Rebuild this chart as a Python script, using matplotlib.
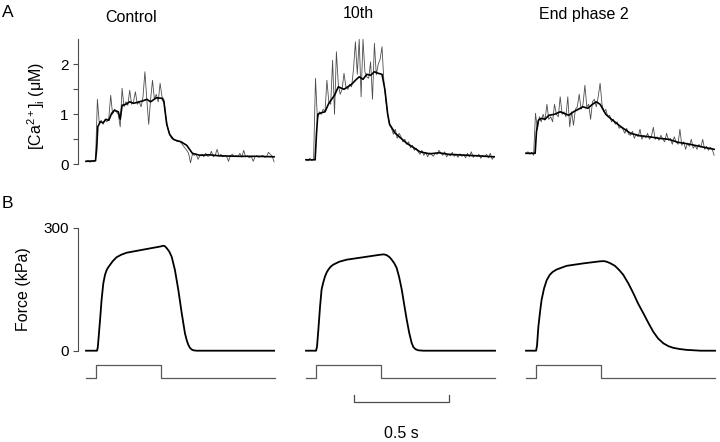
import numpy as np
import matplotlib
matplotlib.use("Agg")
import matplotlib.pyplot as plt
import matplotlib as mpl

#### plotting parameters ###
mpl.rcParams['font.family'] = ['Liberation Sans', 'DejaVu Sans']
mpl.rcParams['mathtext.fontset'] = 'custom'
mpl.rcParams['mathtext.rm'] = 'Liberation Sans'
mpl.rcParams['mathtext.it'] = 'Liberation Sans:italic'
mpl.rcParams['axes.linewidth'] = 0.8
mpl.rcParams['axes.edgecolor'] = '0.3'
mpl.rcParams['ytick.color'] = '0.3'
mpl.rcParams['ytick.labelcolor'] = 'black'
mpl.rcParams['ytick.labelsize'] = 11
mpl.rcParams['ytick.major.size'] = 3.5
mpl.rcParams['ytick.minor.size'] = 3.5
mpl.rcParams['ytick.major.width'] = 0.8
mpl.rcParams['ytick.minor.width'] = 0.8

conditions = ["Control", "10th", "End phase 2"]

# [Ca2+]i raw traces (uM), one sample every 10 ms
dt = 0.01
ca_control = [0.05, 0.08, 0.04, 0.06, 0.05, 0.08, 1.3, 0.82, 0.88, 0.8,
              0.9, 0.85, 0.92, 1.38, 1.0, 1.1, 1.05, 1.0, 0.75, 1.52,
              1.15, 1.25, 1.18, 1.48, 1.2, 1.25, 1.45, 1.2, 1.25, 1.15,
              1.35, 1.85, 1.3, 0.8, 1.3, 1.68, 1.3, 1.4, 1.25, 1.62,
              1.35, 1.3, 0.95, 0.72, 0.6, 0.52, 0.5, 0.48, 0.46, 0.47,
              0.43, 0.38, 0.33, 0.28, 0.22, 0.03, 0.2, 0.18, 0.2, 0.1,
              0.18, 0.2, 0.15, 0.22, 0.16, 0.17, 0.26, 0.15, 0.18, 0.3,
              0.16, 0.2, 0.15, 0.18, 0.16, 0.06, 0.17, 0.2, 0.15, 0.17,
              0.16, 0.22, 0.14, 0.28, 0.15, 0.17, 0.13, 0.16, 0.06, 0.15,
              0.17, 0.14, 0.16, 0.18, 0.14, 0.15, 0.24, 0.2, 0.16, 0.05]
ca_10th = [0.1, 0.07, 0.12, 0.08, 0.1, 1.72, 0.9, 1.05, 1.0, 1.1,
           1.05, 1.68, 1.25, 1.2, 2.08, 1.0, 2.25, 1.6, 1.4, 1.5,
           1.82, 1.55, 1.5, 1.6, 1.55, 1.9, 2.45, 1.8, 2.5, 1.35,
           2.5, 1.85, 1.75, 1.72, 2.05, 1.3, 2.42, 1.79, 2.0, 2.1,
           2.35, 1.65, 1.3, 1.0, 0.78, 0.72, 0.6, 0.7, 0.52, 0.62,
           0.55, 0.45, 0.5, 0.4, 0.45, 0.33, 0.38, 0.28, 0.32, 0.25,
           0.2, 0.28, 0.18, 0.24, 0.15, 0.23, 0.2, 0.16, 0.22, 0.2,
           0.28, 0.22, 0.18, 0.25, 0.15, 0.2, 0.17, 0.24, 0.16, 0.2,
           0.14, 0.21, 0.16, 0.19, 0.13, 0.22, 0.15, 0.25, 0.14, 0.18,
           0.16, 0.2, 0.12, 0.18, 0.15, 0.2, 0.13, 0.22, 0.1, 0.16]
ca_end = [0.22, 0.25, 0.2, 0.24, 0.18, 1.02, 0.7, 0.95, 0.85, 1.0,
          0.88, 1.2, 0.9, 0.95, 0.85, 1.2, 1.0, 0.95, 1.35, 1.0,
          1.05, 0.95, 1.35, 0.75, 1.05, 0.78, 1.1, 1.15, 1.4, 1.1,
          1.2, 1.58, 1.15, 1.2, 0.9, 1.25, 1.3, 1.15, 1.35, 1.62,
          1.2, 1.05, 1.1, 0.95, 0.98, 0.85, 0.9, 0.8, 0.85, 0.72,
          0.75, 0.7, 0.62, 0.72, 0.6, 0.58, 0.66, 0.52, 0.6, 0.55,
          0.7, 0.5, 0.58, 0.53, 0.62, 0.5, 0.56, 0.74, 0.5, 0.55,
          0.48, 0.58, 0.5, 0.45, 0.62, 0.48, 0.52, 0.4, 0.55, 0.45,
          0.4, 0.7, 0.38, 0.45, 0.3, 0.42, 0.36, 0.5, 0.32, 0.38,
          0.3, 0.4, 0.34, 0.5, 0.3, 0.36, 0.28, 0.34, 0.3, 0.18]
ca_raw = [ca_control, ca_10th, ca_end]

# filtered [Ca2+]i (black line), (time s, uM)
ca_smooth_t = [
    [0, 0.05, 0.056, 0.062, 0.075, 0.09, 0.105, 0.12, 0.135, 0.15, 0.17, 0.18,
     0.19, 0.21, 0.23, 0.25, 0.27, 0.3, 0.32, 0.34, 0.37, 0.4, 0.41, 0.425,
     0.44, 0.46, 0.48, 0.5, 0.53, 0.56, 0.6, 0.65, 0.7, 0.8, 0.9, 0.99],
    [0, 0.048, 0.055, 0.062, 0.08, 0.1, 0.12, 0.135, 0.15, 0.17, 0.2, 0.22,
     0.24, 0.26, 0.28, 0.3, 0.32, 0.34, 0.36, 0.38, 0.4, 0.415, 0.43, 0.44,
     0.47, 0.5, 0.53, 0.56, 0.6, 0.65, 0.7, 0.75, 0.8, 0.9, 0.99],
    [0, 0.048, 0.055, 0.065, 0.08, 0.1, 0.12, 0.15, 0.18, 0.2, 0.225, 0.25,
     0.275, 0.3, 0.325, 0.35, 0.37, 0.39, 0.42, 0.45, 0.5, 0.55, 0.6, 0.65,
     0.7, 0.75, 0.8, 0.85, 0.9, 0.95, 0.99],
]
ca_smooth = [
    [0.06, 0.07, 0.3, 0.75, 0.85, 0.83, 0.9, 0.88, 1.02, 1.08, 1.05, 0.9,
     1.18, 1.2, 1.25, 1.22, 1.24, 1.27, 1.3, 1.25, 1.33, 1.32, 1.25, 0.8,
     0.6, 0.5, 0.47, 0.45, 0.38, 0.22, 0.18, 0.19, 0.17, 0.16, 0.16, 0.15],
    [0.09, 0.09, 0.6, 1.0, 1.03, 1.05, 1.22, 1.3, 1.38, 1.55, 1.5, 1.55,
     1.6, 1.68, 1.75, 1.7, 1.8, 1.78, 1.85, 1.82, 1.8, 1.5, 1.0, 0.8,
     0.62, 0.52, 0.42, 0.35, 0.25, 0.21, 0.23, 0.2, 0.19, 0.17, 0.15],
    [0.22, 0.22, 0.65, 0.88, 0.92, 0.9, 0.98, 1.0, 1.05, 1.02, 0.98, 1.05,
     1.1, 1.15, 1.12, 1.2, 1.25, 1.2, 1.0, 0.9, 0.75, 0.62, 0.57, 0.55,
     0.52, 0.5, 0.44, 0.41, 0.37, 0.33, 0.3],
]

# force (time s, kPa)
force_t = [
    [0, 0.058, 0.062, 0.066, 0.074, 0.082, 0.091, 0.1, 0.109, 0.118, 0.126,
     0.14, 0.161, 0.185, 0.214, 0.284, 0.354, 0.39, 0.407, 0.415, 0.425,
     0.438, 0.451, 0.468, 0.486, 0.504, 0.521, 0.531, 0.539, 0.547, 0.556,
     0.565, 0.582, 0.99],
    [0, 0.053, 0.058, 0.065, 0.074, 0.082, 0.09, 0.1, 0.109, 0.118, 0.13,
     0.144, 0.175, 0.214, 0.302, 0.389, 0.41, 0.425, 0.44, 0.451, 0.465,
     0.477, 0.49, 0.504, 0.517, 0.53, 0.543, 0.556, 0.565, 0.575, 0.59,
     0.618, 0.995],
    [0, 0.053, 0.058, 0.065, 0.074, 0.082, 0.095, 0.109, 0.125, 0.14, 0.161,
     0.19, 0.214, 0.302, 0.389, 0.41, 0.425, 0.445, 0.468, 0.49, 0.512,
     0.54, 0.565, 0.59, 0.618, 0.645, 0.67, 0.695, 0.723, 0.75, 0.775,
     0.81, 0.846, 0.92, 0.995],
]
force = [
    [0, 0, 8, 30, 75, 124, 164, 185, 197, 204, 209, 218, 228, 234, 239, 245,
     251, 254, 256, 255, 250, 242, 229, 197, 148, 91, 42, 24, 14, 7, 3, 1,
     0, 0],
    [0, 0, 10, 51, 108, 149, 165, 181, 191, 198, 205, 210, 217, 222, 228,
     234, 235, 233, 228, 222, 213, 202, 180, 149, 112, 76, 44, 19, 9, 4, 1,
     0, 0],
    [0, 0, 12, 58, 95, 124, 152, 172, 185, 192, 198, 203, 207, 213, 218,
     218.5, 217, 213, 207, 197, 185, 163, 140, 115, 91, 67, 46, 30, 18, 11,
     7, 4, 2, 0, 0],
]

# stimulation (on/off)
stim_t = [0, 0.055, 0.055, 0.397, 0.397, 0.995]
stim_level = [0, 0, 1, 1, 0, 0]

scale_bar_start = 0.25
scale_bar_len = 0.5   # s

W, H = 720, 442
fig = plt.figure(figsize=(W / 100, H / 100), dpi=100)


def add_px_axes(left, top, width, height):
    ax = fig.add_axes([left / W, 1 - (top + height) / H, width / W, height / H])
    ax.patch.set_alpha(0)
    return ax


def fig_text(x, y, s, **kw):
    fig.text(x / W, 1 - y / H, s, **kw)


col_x0 = [86, 306, 526]   # pixel where each sweep starts
px_per_s = 190
xlim = (-0.04, 1.0)
ax_w = (xlim[1] - xlim[0]) * px_per_s

t_raw = np.arange(len(ca_control)) * dt

for j, name in enumerate(conditions):
    left = col_x0[j] + xlim[0] * px_per_s

    # calcium: raw trace + filtered trace
    ax = add_px_axes(left, 39.3, ax_w, 130)
    ax.plot(t_raw, ca_raw[j], color='0.3', lw=0.6, clip_on=False)
    ax.plot(ca_smooth_t[j], ca_smooth[j], color='black', lw=1.2, clip_on=False)
    ax.set_xlim(xlim)
    ax.set_ylim(-0.1, 2.5)

    # force
    axf = add_px_axes(left, 227.7, ax_w, 127.1)
    axf.plot(force_t[j], force[j], color='black', lw=1.3)
    axf.set_xlim(xlim)
    axf.set_ylim(-10, 300)

    # stimulus
    axs = add_px_axes(left, 365, ax_w, 13)
    axs.plot(stim_t, stim_level, color='0.35', lw=0.9, clip_on=False)
    axs.set_xlim(xlim)
    axs.set_ylim(0, 1)
    axs.axis('off')

    if j == 0:
        for a in (ax, axf):
            for s in ('top', 'right', 'bottom'):
                a.spines[s].set_visible(False)
            a.set_xticks([])
        ax.spines['left'].set_bounds(0, 2.5)
        ax.set_yticks([0, 1, 2])
        ax.set_yticks([0.5, 1.5], minor=True)
        axf.spines['left'].set_bounds(0, 300)
        axf.set_yticks([0, 300])
    else:
        ax.axis('off')
        axf.axis('off')

# scale bar under middle column
axb = add_px_axes(col_x0[1] + xlim[0] * px_per_s, 395, ax_w, 7)
sb = [scale_bar_start, scale_bar_start, scale_bar_start + scale_bar_len,
      scale_bar_start + scale_bar_len]
axb.plot(sb, [1, 0, 0, 1], color='0.3', lw=0.9, clip_on=False)
axb.set_xlim(xlim)
axb.set_ylim(0, 1)
axb.axis('off')
fig_text(401, 433, f"{scale_bar_len} s", ha='center', va='center', fontsize=11.5)

# titles and labels
fig_text(131, 22, conditions[0], ha='center', va='baseline', fontsize=11.5)
fig_text(358, 18, conditions[1], ha='center', va='baseline', fontsize=11.5)
fig_text(584, 19, conditions[2], ha='center', va='baseline', fontsize=11.5)
fig_text(2, 17, "A", ha='left', va='baseline', fontsize=12.5)
fig_text(2, 208, "B", ha='left', va='baseline', fontsize=12.5)
fig_text(36, 106, r"[Ca$^{2+}$]$_{\rm i}$ (μM)", ha='center', va='center',
         rotation=90, fontsize=11.5)
fig_text(24, 289, "Force (kPa)", ha='center', va='center', rotation=90,
         fontsize=11.5)

plt.savefig("out.png", dpi=100)
